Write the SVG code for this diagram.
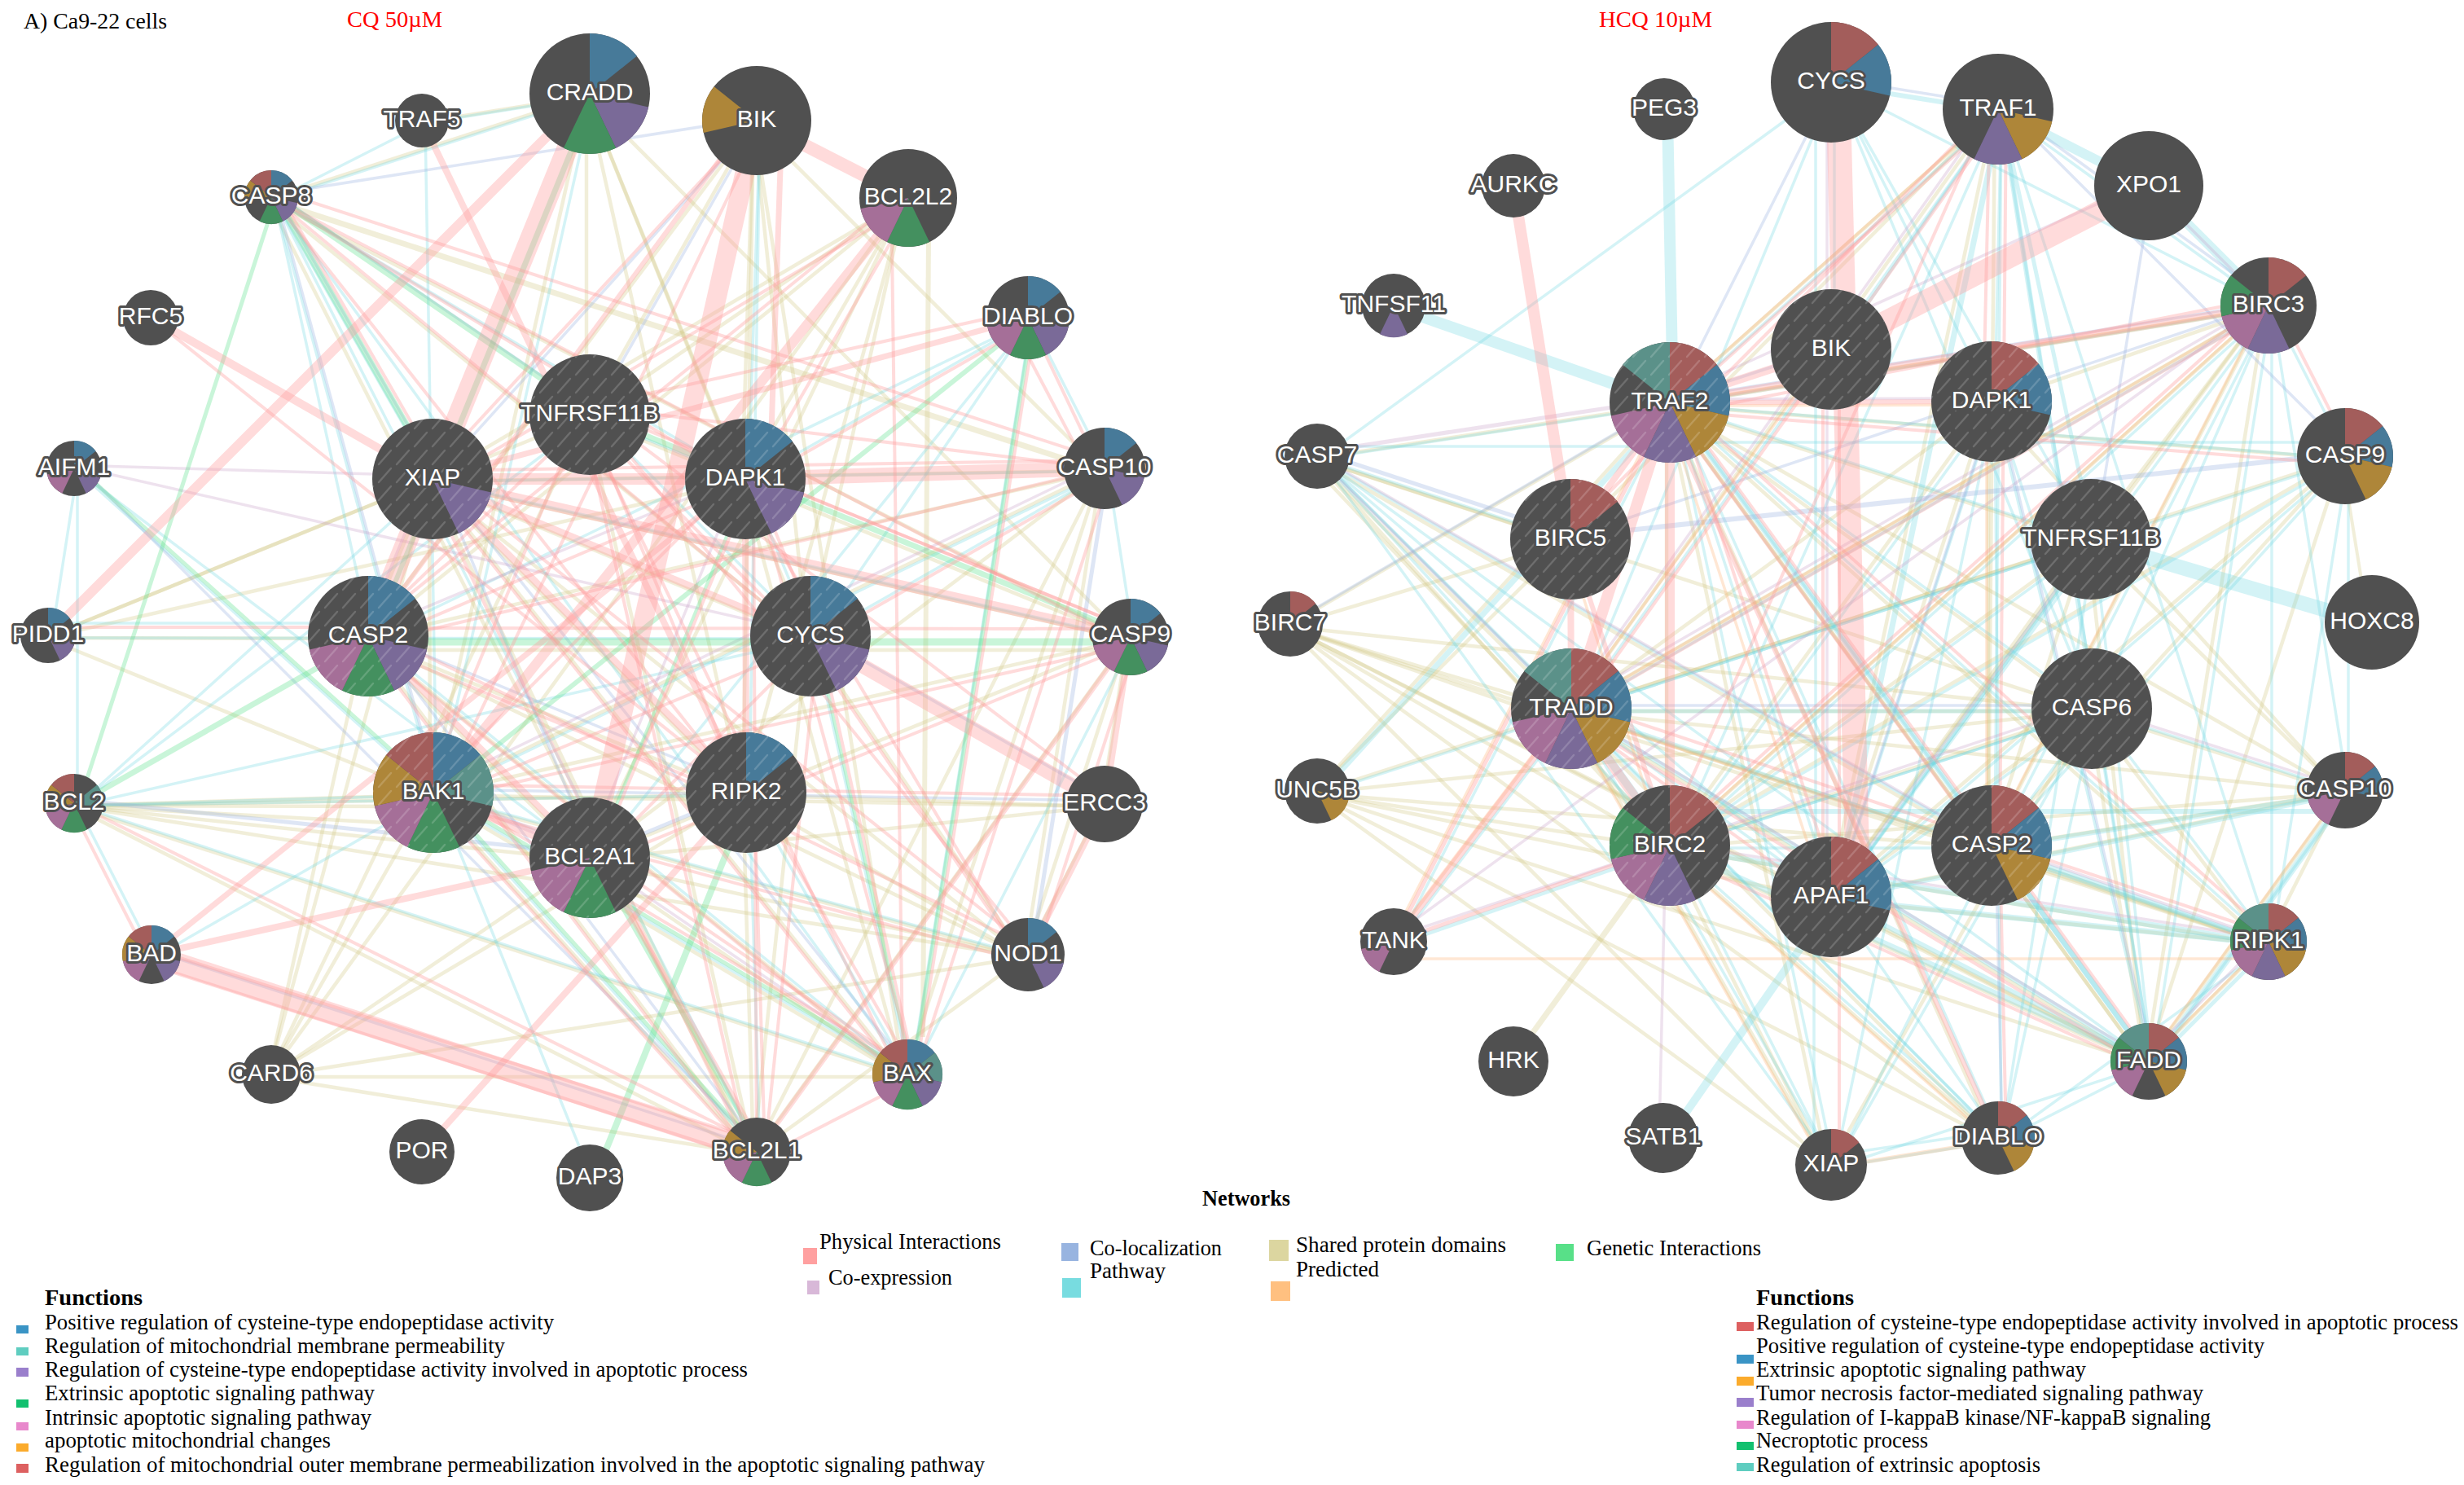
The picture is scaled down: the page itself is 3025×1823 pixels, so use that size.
<svg xmlns="http://www.w3.org/2000/svg" width="3025" height="1823" viewBox="0 0 3025 1823">
<style>
.s{stroke:#d2ca88;stroke-opacity:.32;fill:none}
.a{stroke:#70d8e2;stroke-opacity:.3;fill:none}
.l{stroke:#98b0e0;stroke-opacity:.32;fill:none}
.c{stroke:#c8a0c8;stroke-opacity:.3;fill:none}
.g{stroke:#58e088;stroke-opacity:.32;fill:none}
.p{stroke:#ff9c9c;stroke-opacity:.36;fill:none}
.d{stroke:#ffb070;stroke-opacity:.3;fill:none}
.bl{fill:#477a99}.te{fill:#5b9189}.pu{fill:#7a6a98}.gr{fill:#44905f}.pk{fill:#a56f98}.or{fill:#ae8639}.re{fill:#a35d5b}
.n text{font-family:"Liberation Sans",Arial,sans-serif;font-size:30px;fill:#fff;stroke:#505050;stroke-width:6px;paint-order:stroke;stroke-linejoin:round;text-anchor:middle}
.t{font-family:"Liberation Serif","Times New Roman",serif;font-size:27px;fill:#000}
.b{font-weight:bold}
.r{fill:#f00}
</style>
<defs>
<circle id="d" r="1" fill="#505050"/>
<path id="w0" d="M0 0L0 -1A1 1 0 0 1 .7818 -.6235Z"/>
<path id="w1" d="M0 0L.7818 -.6235A1 1 0 0 1 .9749 .2225Z"/>
<path id="w2" d="M0 0L.9749 .2225A1 1 0 0 1 .4339 .901Z"/>
<path id="w3" d="M0 0L.4339 .901A1 1 0 0 1 -.4339 .901Z"/>
<path id="w4" d="M0 0L-.4339 .901A1 1 0 0 1 -.9749 .2225Z"/>
<path id="w5" d="M0 0L-.9749 .2225A1 1 0 0 1 -.7818 -.6235Z"/>
<path id="w6" d="M0 0L-.7818 -.6235A1 1 0 0 1 0 -1Z"/>
<pattern id="h" width="22" height="22" patternUnits="userSpaceOnUse">
<path d="M3 20L18 3" stroke="#fff" stroke-opacity=".17" stroke-width="2.4" stroke-linecap="round" fill="none"/>
</pattern>
</defs>
<rect width="3025" height="1823" fill="#fff"/>

<g id="connectors-left">
<g class="s" stroke-width="4.5" transform="translate(-4 3)">
<path d="M724 115L518 148"/><path d="M724 115L333 242"/><path d="M724 115L724 509"/><path d="M724 115L915 588"/><path d="M724 115L995 781"/><path d="M724 115L916 973"/><path d="M724 115L1388 782"/><path d="M724 115L532 973"/>
<path d="M929 148L452 781"/><path d="M929 148L724 509"/><path d="M929 148L915 588"/><path d="M929 148L916 973"/><path d="M929 148L995 781"/><path d="M929 148L1356 575"/><path d="M929 148L1114 1319"/>
<path d="M1115 243L531 588"/><path d="M1115 243L452 781"/><path d="M1115 243L333 1319"/><path d="M1115 243L724 509"/><path d="M1115 243L916 973"/><path d="M1115 243L915 588"/><path d="M1115 243L995 781"/><path d="M1115 243L724 1053"/><path d="M1144 290L1137 1270" stroke-width="6"/>
<path d="M333 242L1356 575" stroke-width="7"/><path d="M333 242L1388 782"/><path d="M333 242L995 781"/><path d="M333 242L929 1414"/>
<path d="M452 781L333 1319"/><path d="M532 973L333 1319"/><path d="M724 1053L333 1319"/><path d="M916 973L333 1319"/><path d="M1262 1172L333 1319"/><path d="M531 588L333 1319"/><path d="M724 509L333 1319"/>
<path d="M91 986L532 973"/><path d="M91 986L532 987"/><path d="M91 986L532 1010"/><path d="M91 986L724 1053"/><path d="M91 986L916 973"/><path d="M91 986L929 1414"/><path d="M91 986L1114 1319"/><path d="M91 986L1262 1172"/>
<path d="M59 780L452 781"/><path d="M59 780L531 588"/><path d="M59 780L724 509"/><path d="M59 780L532 973"/><path d="M59 780L915 588"/>
<path d="M1262 1172L452 781"/><path d="M1262 1172L531 588"/><path d="M1262 1172L724 1053"/><path d="M1262 1172L916 973"/><path d="M1262 1172L532 973"/><path d="M1262 1172L995 781"/><path d="M1262 1172L1388 782"/><path d="M1262 1172L1356 987"/>
<path d="M1356 987L1388 782"/><path d="M1356 987L532 973"/><path d="M1356 987L916 973"/><path d="M1356 987L724 1053"/>
<path d="M1114 1319L452 781"/><path d="M1114 1319L532 973"/><path d="M1114 1319L333 1319"/><path d="M1114 1319L915 588"/><path d="M1114 1319L531 588"/><path d="M1114 1319L724 1053"/><path d="M1114 1319L1356 575"/>
<path d="M929 1414L452 781"/><path d="M929 1414L531 588"/><path d="M929 1414L532 973"/><path d="M929 1414L333 1319"/><path d="M929 1414L724 509"/><path d="M929 1414L995 781"/><path d="M929 1414L916 973"/><path d="M929 1414L1262 1172"/><path d="M929 1414L1388 782"/>
<path d="M1388 782L531 588"/><path d="M1388 782L532 973"/><path d="M1388 782L724 1053"/><path d="M1388 782L724 509"/><path d="M1388 795L452 795"/>
<path d="M1356 575L531 588"/><path d="M1356 575L452 781"/><path d="M1356 575L532 973"/><path d="M1356 575L724 1053"/><path d="M1356 575L929 1414"/><path d="M1356 575L1262 1172"/>
<path d="M531 588L916 973"/><path d="M531 588L532 973"/><path d="M531 588L995 781"/><path d="M531 588L452 781"/><path d="M452 781L916 973"/><path d="M452 781L724 1053"/>
</g>
<g class="a" stroke-width="3.5" transform="translate(4 3)">
<path d="M518 148L333 242"/><path d="M518 148L724 115"/><path d="M518 148L532 973"/><path d="M724 115L333 242"/><path d="M724 115L532 973"/><path d="M929 148L915 588"/><path d="M929 148L916 973"/>
<path d="M333 242L452 781"/><path d="M333 242L531 588"/><path d="M333 242L532 973"/><path d="M333 242L929 1414"/><path d="M333 242L915 588"/><path d="M333 242L1114 1319"/>
<path d="M91 575L59 780"/><path d="M91 575L91 986"/><path d="M91 575L532 973"/><path d="M91 575L724 1053"/>
<path d="M59 762L452 762"/><path d="M59 780L995 781"/>
<path d="M91 986L532 973"/><path d="M91 986L531 588"/><path d="M91 986L995 781"/><path d="M91 986L724 509"/><path d="M91 986L1114 1319"/><path d="M91 986L916 973"/><path d="M91 986L186 1172"/>
<path d="M186 1172L532 973"/><path d="M724 1446L532 973"/><path d="M532 973L1114 1319"/><path d="M532 973L929 1414"/><path d="M532 973L1262 1172"/>
<path d="M1262 390L915 588"/><path d="M1262 390L995 781"/><path d="M1262 390L1114 1319"/><path d="M1262 390L452 781"/><path d="M1262 390L1356 575"/><path d="M1262 390L724 1053"/>
<path d="M1356 575L531 588"/><path d="M1356 575L532 973"/><path d="M1356 575L1388 782"/><path d="M1356 575L995 781"/>
<path d="M531 588L1388 782"/><path d="M724 509L995 781"/><path d="M724 509L915 588"/><path d="M915 588L995 781"/><path d="M995 781L1114 1319"/><path d="M916 973L929 1414"/><path d="M916 973L1114 1319"/><path d="M1388 782L1114 1319"/><path d="M452 781L1114 1319"/>
</g>
<g class="l" stroke-width="3.5" transform="translate(5 -4)">
<path d="M333 242L929 148"/><path d="M333 242L531 588"/><path d="M333 242L532 973"/><path d="M333 242L724 509"/><path d="M929 148L724 509"/><path d="M929 148L531 588"/><path d="M91 575L929 1414"/><path d="M91 986L724 1053" stroke-width="5"/><path d="M532 973L724 1053"/><path d="M916 973L724 1053" stroke-width="5"/><path d="M995 781L1356 987"/><path d="M532 973L1356 987"/><path d="M1262 1172L1356 575" stroke-width="5"/><path d="M452 781L916 973"/><path d="M531 588L724 1053"/><path d="M531 588L1114 1319"/><path d="M452 781L929 1414"/><path d="M186 1172L929 1414"/>
</g>
<g class="c" stroke-width="3.5" transform="translate(-5 -4)">
<path d="M91 575L531 588"/><path d="M91 575L995 781"/><path d="M1356 575L532 973"/><path d="M532 973L724 1053"/><path d="M531 588L452 781"/><path d="M915 588L724 1053"/><path d="M724 1053L1114 1319"/><path d="M452 781L915 588"/>
</g>
<g class="g" transform="translate(6 0)">
<path d="M333 242L724 509" stroke-width="8"/><path d="M333 242L531 588" stroke-width="8"/><path d="M333 242L91 986" stroke-width="5"/><path d="M724 115L531 588" stroke-width="7"/><path d="M531 588L452 781" stroke-width="6"/><path d="M452 788L1388 788" stroke-width="9"/><path d="M724 509L1388 782" stroke-width="7"/><path d="M1262 390L532 973" stroke-width="6"/><path d="M1262 390L1114 1319" stroke-width="5"/><path d="M916 973L724 1446" stroke-width="8"/><path d="M91 986L452 781" stroke-width="7"/><path d="M91 575L532 973" stroke-width="5"/><path d="M532 973L1114 1319" stroke-width="5"/><path d="M532 973L929 1414" stroke-width="5"/><path d="M724 1053L929 1414" stroke-width="6"/><path d="M915 588L724 1053" stroke-width="4"/><path d="M995 781L1114 1319" stroke-width="4"/>
</g>
<g class="p" stroke-width="4">
<path d="M724 115L452 781" stroke-width="26"/><path d="M929 148L724 1053" stroke-width="24"/><path d="M186 1172L929 1414" stroke-width="26"/><path d="M186 1185L915 1420"/><path d="M186 1165L929 1400"/>
<path d="M995 781L1356 987" stroke-width="18"/><path d="M915 588L1356 575" stroke-width="18"/><path d="M929 148L1115 243" stroke-width="16"/><path d="M531 588L915 588" stroke-width="14"/><path d="M531 588L1388 782" stroke-width="12"/><path d="M59 780L724 115" stroke-width="12"/><path d="M1115 243L532 973" stroke-width="12"/><path d="M185 390L531 588" stroke-width="10"/><path d="M531 588L995 781" stroke-width="9"/><path d="M531 588L916 973" stroke-width="9"/><path d="M452 781L724 1053" stroke-width="8"/><path d="M532 973L724 1053" stroke-width="12"/>
<path d="M518 148L916 973" stroke-width="8"/><path d="M1262 390L531 588" stroke-width="7"/><path d="M186 1172L915 588" stroke-width="7"/><path d="M186 1172L724 1053" stroke-width="8"/><path d="M518 1414L916 973" stroke-width="8"/><path d="M1388 782L1356 987" stroke-width="8"/><path d="M1356 987L1262 1172" stroke-width="8"/><path d="M1388 782L929 1414" stroke-width="6"/><path d="M915 588L916 973" stroke-width="8"/><path d="M960 148L945 588" stroke-width="7"/><path d="M1095 300L1108 1290"/>
<path d="M185 390L916 973"/><path d="M333 242L915 595"/><path d="M333 242L995 788"/><path d="M333 242L916 980"/><path d="M333 232L1356 565"/><path d="M333 242L1388 790"/><path d="M345 242L545 588"/>
<path d="M85 986L180 1172"/><path d="M91 986L929 1404"/><path d="M59 770L452 770"/>
<path d="M1262 390L1350 575"/><path d="M1240 395L1335 575"/><path d="M1262 380L724 499"/><path d="M1262 400L915 598"/><path d="M1272 390L1124 1319"/>
<path d="M1356 565L531 578"/><path d="M1356 575L724 499"/><path d="M1356 575L452 791"/><path d="M1356 585L995 791"/><path d="M1366 575L1124 1319"/>
<path d="M1388 772L915 578"/><path d="M1388 772L724 499"/><path d="M1388 772L452 771"/><path d="M1388 792L532 983"/><path d="M1388 792L724 1063"/><path d="M1398 782L1272 1172"/>
<path d="M1356 977L724 499"/><path d="M1356 977L532 963"/>
<path d="M1262 1162L531 578"/><path d="M1262 1162L452 771"/><path d="M1262 1162L724 499"/><path d="M1252 1172L905 588"/><path d="M1262 1182L532 983"/><path d="M1252 1172L985 781"/>
<path d="M1104 1319L442 781"/><path d="M1104 1319L521 588"/><path d="M1104 1319L714 509"/><path d="M1124 1319L925 588"/><path d="M1114 1309L532 963"/><path d="M1114 1309L724 1043"/><path d="M1124 1319L1005 781"/><path d="M1124 1319L926 973"/>
<path d="M919 1414L442 781"/><path d="M919 1414L521 588"/><path d="M919 1414L522 973"/><path d="M939 1414L926 973"/><path d="M939 1414L1005 781"/><path d="M929 1424L925 588"/><path d="M929 1424L1114 1329"/><path d="M919 1414L714 509"/><path d="M939 1414L734 1053" stroke-width="6"/>
<path d="M916 983L452 791"/><path d="M916 983L724 519"/><path d="M1005 781L925 588"/><path d="M985 781L714 509"/><path d="M995 791L532 983"/><path d="M995 791L724 1063"/><path d="M905 588L522 973"/><path d="M925 588L734 1053"/><path d="M905 598L452 791"/><path d="M714 509L522 973"/><path d="M714 519L442 781"/>
<path d="M919 148L452 781" stroke-width="6"/><path d="M929 148L531 578"/><path d="M939 148L542 973"/><path d="M1115 253L531 598"/><path d="M1125 243L925 588"/><path d="M1115 233L452 771"/>
</g>
</g>

<g id="connectors-right">
<g class="s" stroke-width="4.5" transform="translate(-4 3)">
<path d="M1858 1303L2050 1038" stroke-width="7"/><path d="M2879 560L2912 764" stroke-width="4"/>
<path d="M1584 766L1929 870"/><path d="M1584 766L2050 1038"/><path d="M1584 766L2050 494"/><path d="M1584 766L1928 662"/><path d="M1584 766L2248 1101"/><path d="M1584 766L2453 1397"/><path d="M1584 766L2248 1430"/><path d="M1584 766L2568 870"/><path d="M1584 766L2785 1156"/><path d="M1584 766L2638 1303"/><path d="M1584 766L1929 885"/>
<path d="M1617 560L1929 870"/><path d="M1617 560L2050 494"/><path d="M1617 560L2050 1038"/><path d="M1617 560L2445 1038"/><path d="M1617 560L2568 870"/><path d="M1617 560L1928 662"/><path d="M1617 570L2060 1038"/>
<path d="M1617 971L2050 494"/><path d="M1617 971L1928 662"/><path d="M1617 971L1929 870"/><path d="M1617 971L2050 1038"/><path d="M1617 971L2248 1101"/><path d="M1617 971L2445 1038"/><path d="M1617 971L2568 870"/><path d="M1617 971L2638 1303"/><path d="M1617 971L2248 1430"/><path d="M1617 971L2453 1397"/>
<path d="M2879 970L2050 1038"/><path d="M2879 970L1929 870"/><path d="M2879 970L2050 494"/><path d="M2879 970L2248 1101"/><path d="M2879 970L2445 1038"/><path d="M2879 970L2638 1303"/><path d="M2879 970L2568 870"/><path d="M2879 970L2785 1156"/><path d="M2879 970L2445 493"/>
<path d="M2785 1156L1929 870"/><path d="M2785 1156L2050 494"/><path d="M2785 1156L2050 1038"/><path d="M2785 1156L2248 1101"/><path d="M2785 1156L2445 1038"/><path d="M2785 1156L2638 1303"/><path d="M2785 1156L2568 870"/>
<path d="M2638 1303L2050 494"/><path d="M2638 1303L1929 870"/><path d="M2638 1303L2050 1038"/><path d="M2638 1303L2248 1101"/><path d="M2638 1303L2445 1038"/><path d="M2638 1303L2568 870"/><path d="M2638 1303L2567 662"/>
<path d="M2785 375L1929 870"/><path d="M2785 375L2050 494"/><path d="M2785 375L2050 1038"/><path d="M2785 375L2567 662"/><path d="M2785 375L2445 493"/><path d="M2785 375L2248 1101"/><path d="M2785 375L2445 1038"/><path d="M2785 375L2638 1303"/>
<path d="M2453 134L1929 870"/><path d="M2453 134L1928 662"/><path d="M2453 134L2050 494"/><path d="M2453 134L2248 1101"/><path d="M2453 134L2445 1038"/>
<path d="M2445 1038L2050 494"/><path d="M2445 1038L1929 870"/><path d="M2445 1038L2567 662"/><path d="M2568 870L1929 870"/><path d="M2568 870L2050 494"/><path d="M2568 870L2050 1038"/><path d="M2568 870L2248 1101"/>
<path d="M2567 662L2050 494"/><path d="M2567 662L1929 870"/><path d="M2567 662L2050 1038"/><path d="M2567 662L2248 1101"/><path d="M2567 662L2879 970"/>
<path d="M2445 493L1929 870"/><path d="M2445 493L2050 1038"/><path d="M2445 493L2248 1101"/><path d="M2445 493L2445 1038"/>
<path d="M2248 1430L1929 870"/><path d="M2248 1430L2050 494"/><path d="M2248 1430L2050 1038"/><path d="M2248 1430L2568 870"/><path d="M2453 1397L1929 870"/><path d="M2453 1397L2050 494"/><path d="M2453 1397L2050 1038"/><path d="M2050 1038L2050 494"/><path d="M2879 560L2050 494"/><path d="M2879 560L2050 1038"/><path d="M2879 560L2248 1101"/><path d="M2879 560L2445 1038"/><path d="M2879 560L1929 870"/><path d="M2879 560L2638 1303"/>
</g>
<g class="a" stroke-width="3.5" transform="translate(4 3)">
<path d="M2043 134L2050 494" stroke-width="14"/><path d="M1711 375L2050 494" stroke-width="14"/><path d="M2638 228L2453 134" stroke-width="12"/><path d="M2638 228L2785 375" stroke-width="12"/><path d="M2567 662L2912 764" stroke-width="18"/><path d="M1929 870L2050 1038" stroke-width="10"/><path d="M2042 1397L2248 1101" stroke-width="10"/><path d="M2879 970L2638 1303" stroke-width="8"/>
<path d="M2248 101L2453 134" stroke-width="6"/><path d="M2453 134L2568 870" stroke-width="6"/><path d="M2453 134L2567 662" stroke-width="5"/><path d="M2453 134L2248 1101" stroke-width="7"/><path d="M2050 494L2638 1303" stroke-width="7"/><path d="M2050 1038L2638 1303" stroke-width="7"/><path d="M2050 1038L2785 1156" stroke-width="7"/><path d="M1929 870L2638 1303" stroke-width="6"/><path d="M1929 870L2785 1156" stroke-width="5"/><path d="M2248 1101L2785 1156" stroke-width="7"/><path d="M2248 1101L2638 1303" stroke-width="6"/><path d="M2445 1038L2785 1156" stroke-width="6"/><path d="M2445 1038L2638 1303" stroke-width="6"/><path d="M2879 970L2445 1038" stroke-width="6"/><path d="M2879 970L2248 1101" stroke-width="6"/><path d="M2879 993L2050 993" stroke-width="6"/>
<path d="M1617 560L2050 494"/><path d="M1617 560L2248 101"/><path d="M1617 560L1929 870"/><path d="M1617 560L2050 1038"/><path d="M1617 560L2248 1101"/><path d="M1617 560L2445 1038"/><path d="M1617 560L2248 1430"/><path d="M1617 560L2453 1397"/><path d="M1617 560L2638 1303"/><path d="M1617 560L1928 662"/><path d="M1617 545L2050 545"/>
<path d="M1617 971L2050 494" stroke-width="7"/><path d="M1617 971L1929 870"/><path d="M1711 1156L1929 870"/><path d="M1711 1156L2050 494"/><path d="M1711 1156L2050 1038" stroke-width="5"/>
<path d="M2785 375L2050 494"/><path d="M2785 375L1929 870"/><path d="M2785 375L2050 1038"/><path d="M2785 375L2248 1101"/><path d="M2785 375L2445 1038"/><path d="M2785 375L2568 870"/><path d="M2785 375L2879 560"/><path d="M2785 375L2785 1156"/><path d="M2785 375L2879 970"/><path d="M2785 375L2638 1303"/>
<path d="M2248 101L1929 870"/><path d="M2248 101L2248 429"/><path d="M2225 101L2225 1101"/><path d="M2248 101L2445 493"/><path d="M2248 101L2785 375"/><path d="M2248 101L2568 870"/><path d="M2248 101L2567 662"/>
<path d="M2453 134L2248 429"/><path d="M2453 134L2050 1038"/><path d="M2453 134L1929 870"/><path d="M2453 134L2050 494"/><path d="M2453 134L2445 1038"/><path d="M2453 134L2445 493"/><path d="M2453 134L2785 375"/><path d="M2453 134L2785 1156"/><path d="M2453 134L2638 1303"/>
<path d="M2445 493L2248 1430"/><path d="M2445 493L2248 1101"/><path d="M2445 493L2050 1038"/><path d="M2445 493L2568 870"/><path d="M2445 493L2638 1303"/><path d="M2445 493L2453 1397"/>
<path d="M2879 560L2050 494"/><path d="M2879 540L2050 540"/><path d="M2879 560L1929 870"/><path d="M2879 560L2050 1038"/><path d="M2879 560L2785 1156"/><path d="M2879 560L2248 1101"/><path d="M2879 560L2879 970"/><path d="M2879 560L2445 1038"/>
<path d="M2567 662L2050 494"/><path d="M2567 662L1929 870"/><path d="M2567 662L2248 1101"/><path d="M2567 662L2050 1038"/><path d="M2567 662L2638 1303"/><path d="M2567 662L2453 1397"/>
<path d="M2568 870L2050 494"/><path d="M2568 870L1929 870" stroke-width="5"/><path d="M2568 870L2050 1038"/><path d="M2568 870L2248 1101"/><path d="M2568 870L2445 1038"/><path d="M2568 870L2785 1156"/><path d="M2568 870L2453 1397"/><path d="M2568 870L2638 1303"/><path d="M2568 870L2879 970"/>
<path d="M2223 1101L2223 1430"/><path d="M2248 1101L2453 1397"/><path d="M2248 1101L2567 662"/><path d="M2050 1038L2453 1397"/><path d="M2050 1038L2248 1430"/><path d="M2050 1038L2445 1038"/><path d="M2050 1038L2568 870"/>
<path d="M1929 870L2453 1397"/><path d="M1929 870L2248 1101"/><path d="M1929 870L2248 1430"/><path d="M2050 494L2453 1397"/><path d="M2050 494L2248 1430"/><path d="M2050 494L2248 1101"/><path d="M2050 494L2445 1038"/><path d="M2050 494L2785 1156"/>
<path d="M2248 1430L2453 1397"/><path d="M2248 1415L2453 1385"/><path d="M2248 1430L2445 1038"/><path d="M2248 1430L2568 870"/><path d="M2248 1430L2638 1303"/><path d="M2453 1397L2638 1303"/><path d="M2453 1397L2785 1156"/><path d="M2638 1303L2785 1156" stroke-width="5"/><path d="M2638 1303L2879 970"/>
</g>
<g class="l" stroke-width="3.5" transform="translate(5 -4)">
<path d="M2879 560L1928 662" stroke-width="6"/><path d="M2785 375L2050 494"/><path d="M2785 375L1928 662"/><path d="M2050 494L2248 429"/><path d="M2050 494L2248 101"/><path d="M2638 228L2567 662"/><path d="M2248 101L2453 134"/><path d="M2453 134L2879 560"/><path d="M2453 134L2785 375"/><path d="M1617 560L1928 662" stroke-width="5"/><path d="M1584 766L2050 494"/><path d="M2445 493L2638 1303"/><path d="M2445 493L2248 1101"/><path d="M1929 870L2568 870"/><path d="M2445 1038L2453 1397"/><path d="M2248 1101L2567 662"/>
</g>
<g class="c" stroke-width="3.5" transform="translate(-5 -4)">
<path d="M1617 560L2050 494" stroke-width="5"/><path d="M2638 228L2050 494"/><path d="M2638 228L2785 375"/><path d="M1711 1156L2785 375"/><path d="M1711 1156L2568 870"/><path d="M2042 1397L2050 1038"/><path d="M2050 1038L2785 1156"/><path d="M1617 560L1929 870"/><path d="M1617 560L2445 1038"/><path d="M2568 870L2879 970"/><path d="M2248 101L2248 1101"/><path d="M2453 134L1929 870"/><path d="M2445 1038L2785 1156"/><path d="M1929 870L2785 375"/><path d="M2445 493L2050 494"/><path d="M2638 1303L2785 1156"/><path d="M1929 870L2638 1303"/>
</g>
<g class="d" stroke-width="3.5" transform="translate(-6 4)">
<path d="M1711 1173L2770 1173"/><path d="M1711 1156L1929 870" stroke-width="5"/><path d="M1711 1156L2050 494"/><path d="M2453 134L2050 494"/><path d="M2050 494L2785 375" stroke-width="5"/><path d="M1929 870L2785 375"/><path d="M2050 494L2445 493"/><path d="M2248 429L1929 870"/><path d="M2050 1038L2785 375"/><path d="M2248 1430L2453 1397" stroke-width="5"/><path d="M2453 1397L2050 1038"/><path d="M2445 1038L2445 493"/><path d="M1929 870L2445 1038"/><path d="M2050 494L2248 1101"/><path d="M2785 375L2445 1038"/><path d="M2638 1303L2785 1156"/><path d="M2638 1303L2879 970"/><path d="M1929 870L2248 1430"/><path d="M1928 662L2050 1038"/>
</g>
<g class="p" stroke-width="4">
<path d="M2638 228L2248 429" stroke-width="26"/><path d="M2258 170L2280 1050" stroke-width="30"/><path d="M1858 228L1928 662" stroke-width="14"/><path d="M2050 494L2785 375" stroke-width="8"/><path d="M2050 494L2248 429" stroke-width="10"/><path d="M2050 494L1929 870" stroke-width="14"/><path d="M2050 494L2050 1038" stroke-width="12"/><path d="M2050 494L1928 662" stroke-width="8"/><path d="M2050 494L2445 493" stroke-width="6"/><path d="M1929 870L2050 1038" stroke-width="12"/><path d="M1711 1156L1929 870" stroke-width="8"/><path d="M1711 1156L2050 494" stroke-width="5"/><path d="M1711 1156L2050 1038" stroke-width="5"/><path d="M1928 662L1929 870" stroke-width="8"/><path d="M1928 662L2050 1038" stroke-width="6"/>
<path d="M2463 134L2060 494"/><path d="M2463 134L1939 870"/><path d="M2443 134L2040 1038"/><path d="M2443 134L2435 493"/><path d="M2463 134L2455 1038"/><path d="M2443 134L1918 662"/><path d="M2785 365L2050 510"/><path d="M2795 375L2889 560"/><path d="M2775 375L2040 1038"/><path d="M2795 375L1939 870"/><path d="M2453 1397L2040 494" stroke-width="6"/><path d="M2455 1038L2463 1397"/><path d="M2238 429L2238 1101"/><path d="M2258 1430L2258 429"/><path d="M2248 1111L1929 880"/><path d="M2258 1101L2060 494"/><path d="M2445 1048L2050 504"/><path d="M2785 1146L2050 484"/><path d="M2785 1146L1929 860"/><path d="M2638 1293L2050 484"/><path d="M2638 1313L1929 880"/><path d="M2638 1313L2050 1048"/><path d="M2879 570L2050 504"/>
</g>
</g>

<g id="nodes-left" class="n">
<g id="a-CRADD"><g transform="translate(724 115) scale(74)"><use href="#d"/><use href="#w0" class="bl"/><use href="#w2" class="pu"/><use href="#w3" class="gr"/></g><text x="724" y="123">CRADD</text></g>
<g id="a-BIK"><g transform="translate(929 148) scale(67)"><use href="#d"/><use href="#w5" class="or"/></g><text x="929" y="156">BIK</text></g>
<g id="a-TRAF5"><g transform="translate(518 148) scale(33)"><use href="#d"/></g><text x="518" y="156">TRAF5</text></g>
<g id="a-CASP8"><g transform="translate(333 242) scale(33)"><use href="#d"/><use href="#w0" class="bl"/><use href="#w2" class="pu"/><use href="#w3" class="gr"/><use href="#w5" class="or"/><use href="#w6" class="re"/></g><text x="333" y="250">CASP8</text></g>
<g id="a-BCL2L2"><g transform="translate(1115 243) scale(60)"><use href="#d"/><use href="#w3" class="gr"/><use href="#w4" class="pk"/></g><text x="1115" y="251">BCL2L2</text></g>
<g id="a-DIABLO"><g transform="translate(1262 390) scale(51)"><use href="#d"/><use href="#w0" class="bl"/><use href="#w2" class="pu"/><use href="#w3" class="gr"/><use href="#w4" class="pk"/></g><text x="1262" y="398">DIABLO</text></g>
<g id="a-RFC5"><g transform="translate(185 390) scale(34)"><use href="#d"/></g><text x="185" y="398">RFC5</text></g>
<g id="a-TNFRSF11B"><circle cx="724" cy="509" r="74" fill="#505050"/><circle cx="724" cy="509" r="74" fill="url(#h)"/><text x="724" y="517">TNFRSF11B</text></g>
<g id="a-XIAP"><g transform="translate(531 588) scale(74)"><use href="#d"/><use href="#w2" class="pu"/></g><circle cx="531" cy="588" r="74" fill="url(#h)"/><text x="531" y="596">XIAP</text></g>
<g id="a-DAPK1"><g transform="translate(915 588) scale(74)"><use href="#d"/><use href="#w0" class="bl"/><use href="#w2" class="pu"/></g><circle cx="915" cy="588" r="74" fill="url(#h)"/><text x="915" y="596">DAPK1</text></g>
<g id="a-AIFM1"><g transform="translate(91 575) scale(34)"><use href="#d"/><use href="#w0" class="bl"/><use href="#w2" class="pu"/><use href="#w4" class="pk"/></g><text x="91" y="583">AIFM1</text></g>
<g id="a-CASP10"><g transform="translate(1356 575) scale(50)"><use href="#d"/><use href="#w0" class="bl"/><use href="#w2" class="pu"/></g><text x="1356" y="583">CASP10</text></g>
<g id="a-PIDD1"><g transform="translate(59 780) scale(34)"><use href="#d"/><use href="#w0" class="bl"/><use href="#w2" class="pu"/></g><text x="59" y="788">PIDD1</text></g>
<g id="a-CASP2"><g transform="translate(452 781) scale(74)"><use href="#d"/><use href="#w0" class="bl"/><use href="#w2" class="pu"/><use href="#w3" class="gr"/><use href="#w4" class="pk"/></g><circle cx="452" cy="781" r="74" fill="url(#h)"/><text x="452" y="789">CASP2</text></g>
<g id="a-CYCS"><g transform="translate(995 781) scale(74)"><use href="#d"/><use href="#w0" class="bl"/><use href="#w2" class="pu"/></g><circle cx="995" cy="781" r="74" fill="url(#h)"/><text x="995" y="789">CYCS</text></g>
<g id="a-CASP9"><g transform="translate(1388 782) scale(47)"><use href="#d"/><use href="#w0" class="bl"/><use href="#w2" class="pu"/><use href="#w3" class="gr"/><use href="#w4" class="pk"/></g><text x="1388" y="788">CASP9</text></g>
<g id="a-BAK1"><g transform="translate(532 973) scale(74)"><use href="#d"/><use href="#w0" class="bl"/><use href="#w1" class="te"/><use href="#w3" class="gr"/><use href="#w4" class="pk"/><use href="#w5" class="or"/><use href="#w6" class="re"/></g><circle cx="532" cy="973" r="74" fill="url(#h)"/><text x="532" y="981">BAK1</text></g>
<g id="a-RIPK2"><g transform="translate(916 973) scale(74)"><use href="#d"/><use href="#w0" class="bl"/></g><circle cx="916" cy="973" r="74" fill="url(#h)"/><text x="916" y="981">RIPK2</text></g>
<g id="a-BCL2"><g transform="translate(91 986) scale(36)"><use href="#d"/><use href="#w1" class="te"/><use href="#w3" class="gr"/><use href="#w4" class="pk"/><use href="#w5" class="or"/><use href="#w6" class="re"/></g><text x="91" y="994">BCL2</text></g>
<g id="a-ERCC3"><g transform="translate(1356 987) scale(47)"><use href="#d"/></g><text x="1356" y="995">ERCC3</text></g>
<g id="a-BCL2A1"><g transform="translate(724 1053) scale(74)"><use href="#d"/><use href="#w3" class="gr"/><use href="#w4" class="pk"/></g><circle cx="724" cy="1053" r="74" fill="url(#h)"/><text x="724" y="1061">BCL2A1</text></g>
<g id="a-BAD"><g transform="translate(186 1172) scale(36)"><use href="#d"/><use href="#w0" class="bl"/><use href="#w2" class="pu"/><use href="#w4" class="pk"/><use href="#w5" class="or"/><use href="#w6" class="re"/></g><text x="186" y="1180">BAD</text></g>
<g id="a-NOD1"><g transform="translate(1262 1172) scale(45)"><use href="#d"/><use href="#w0" class="bl"/><use href="#w2" class="pu"/></g><text x="1262" y="1180">NOD1</text></g>
<g id="a-CARD6"><g transform="translate(333 1319) scale(36)"><use href="#d"/></g><text x="333" y="1327">CARD6</text></g>
<g id="a-BAX"><g transform="translate(1114 1319) scale(43)"><use href="#d"/><use href="#w0" class="bl"/><use href="#w1" class="te"/><use href="#w2" class="pu"/><use href="#w3" class="gr"/><use href="#w4" class="pk"/><use href="#w5" class="or"/><use href="#w6" class="re"/></g><text x="1114" y="1327">BAX</text></g>
<g id="a-POR"><g transform="translate(518 1414) scale(40)"><use href="#d"/></g><text x="518" y="1422">POR</text></g>
<g id="a-BCL2L1"><g transform="translate(929 1414) scale(42)"><use href="#d"/><use href="#w3" class="gr"/><use href="#w4" class="pk"/><use href="#w5" class="or"/></g><text x="929" y="1422">BCL2L1</text></g>
<g id="a-DAP3"><g transform="translate(724 1446) scale(41)"><use href="#d"/></g><text x="724" y="1454">DAP3</text></g>
</g>

<g id="nodes-right" class="n">
<g id="b-CYCS"><g transform="translate(2248 101) scale(74)"><use href="#d"/><use href="#w0" class="re"/><use href="#w1" class="bl"/></g><text x="2248" y="109">CYCS</text></g>
<g id="b-PEG3"><g transform="translate(2043 134) scale(38)"><use href="#d"/></g><text x="2043" y="142">PEG3</text></g>
<g id="b-TRAF1"><g transform="translate(2453 134) scale(68)"><use href="#d"/><use href="#w2" class="or"/><use href="#w3" class="pu"/></g><text x="2453" y="142">TRAF1</text></g>
<g id="b-XPO1"><g transform="translate(2638 228) scale(67)"><use href="#d"/></g><text x="2638" y="236">XPO1</text></g>
<g id="b-AURKC"><g transform="translate(1858 228) scale(39)"><use href="#d"/></g><text x="1858" y="236">AURKC</text></g>
<g id="b-TNFSF11"><g transform="translate(1711 375) scale(39)"><use href="#d"/><use href="#w3" class="pu"/></g><text x="1711" y="383">TNFSF11</text></g>
<g id="b-BIRC3"><g transform="translate(2785 375) scale(59)"><use href="#d"/><use href="#w0" class="re"/><use href="#w3" class="pu"/><use href="#w4" class="pk"/><use href="#w5" class="gr"/></g><text x="2785" y="383">BIRC3</text></g>
<g id="b-BIK"><circle cx="2248" cy="429" r="74" fill="#505050"/><circle cx="2248" cy="429" r="74" fill="url(#h)"/><text x="2248" y="437">BIK</text></g>
<g id="b-TRAF2"><g transform="translate(2050 494) scale(74)"><use href="#d"/><use href="#w0" class="re"/><use href="#w1" class="bl"/><use href="#w2" class="or"/><use href="#w3" class="pu"/><use href="#w4" class="pk"/><use href="#w6" class="te"/></g><circle cx="2050" cy="494" r="74" fill="url(#h)"/><text x="2050" y="502">TRAF2</text></g>
<g id="b-DAPK1"><g transform="translate(2445 493) scale(74)"><use href="#d"/><use href="#w0" class="re"/><use href="#w1" class="bl"/></g><circle cx="2445" cy="493" r="74" fill="url(#h)"/><text x="2445" y="501">DAPK1</text></g>
<g id="b-CASP7"><g transform="translate(1617 560) scale(40)"><use href="#d"/></g><text x="1617" y="568">CASP7</text></g>
<g id="b-CASP9"><g transform="translate(2879 560) scale(59)"><use href="#d"/><use href="#w0" class="re"/><use href="#w1" class="bl"/><use href="#w2" class="or"/></g><text x="2879" y="568">CASP9</text></g>
<g id="b-TNFRSF11B"><circle cx="2567" cy="662" r="74" fill="#505050"/><circle cx="2567" cy="662" r="74" fill="url(#h)"/><text x="2567" y="670">TNFRSF11B</text></g>
<g id="b-BIRC5"><g transform="translate(1928 662) scale(74)"><use href="#d"/><use href="#w0" class="re"/></g><circle cx="1928" cy="662" r="74" fill="url(#h)"/><text x="1928" y="670">BIRC5</text></g>
<g id="b-HOXC8"><g transform="translate(2912 764) scale(58)"><use href="#d"/></g><text x="2912" y="772">HOXC8</text></g>
<g id="b-BIRC7"><g transform="translate(1584 766) scale(40)"><use href="#d"/><use href="#w0" class="re"/></g><text x="1584" y="774">BIRC7</text></g>
<g id="b-TRADD"><g transform="translate(1929 870) scale(74)"><use href="#d"/><use href="#w0" class="re"/><use href="#w1" class="bl"/><use href="#w2" class="or"/><use href="#w3" class="pu"/><use href="#w4" class="pk"/><use href="#w6" class="te"/></g><circle cx="1929" cy="870" r="74" fill="url(#h)"/><text x="1929" y="878">TRADD</text></g>
<g id="b-CASP6"><circle cx="2568" cy="870" r="74" fill="#505050"/><circle cx="2568" cy="870" r="74" fill="url(#h)"/><text x="2568" y="878">CASP6</text></g>
<g id="b-UNC5B"><g transform="translate(1617 971) scale(40)"><use href="#d"/><use href="#w2" class="or"/></g><text x="1617" y="979">UNC5B</text></g>
<g id="b-CASP10"><g transform="translate(2879 970) scale(47)"><use href="#d"/><use href="#w0" class="re"/><use href="#w1" class="bl"/><use href="#w4" class="pk"/></g><text x="2879" y="978">CASP10</text></g>
<g id="b-BIRC2"><g transform="translate(2050 1038) scale(74)"><use href="#d"/><use href="#w0" class="re"/><use href="#w3" class="pu"/><use href="#w4" class="pk"/><use href="#w5" class="gr"/></g><circle cx="2050" cy="1038" r="74" fill="url(#h)"/><text x="2050" y="1046">BIRC2</text></g>
<g id="b-CASP2"><g transform="translate(2445 1038) scale(74)"><use href="#d"/><use href="#w0" class="re"/><use href="#w1" class="bl"/><use href="#w2" class="or"/></g><circle cx="2445" cy="1038" r="74" fill="url(#h)"/><text x="2445" y="1046">CASP2</text></g>
<g id="b-APAF1"><g transform="translate(2248 1101) scale(74)"><use href="#d"/><use href="#w0" class="re"/><use href="#w1" class="bl"/></g><circle cx="2248" cy="1101" r="74" fill="url(#h)"/><text x="2248" y="1109">APAF1</text></g>
<g id="b-TANK"><g transform="translate(1711 1156) scale(41)"><use href="#d"/><use href="#w4" class="pk"/></g><text x="1711" y="1164">TANK</text></g>
<g id="b-RIPK1"><g transform="translate(2785 1156) scale(47)"><use href="#d"/><use href="#w0" class="re"/><use href="#w1" class="bl"/><use href="#w2" class="or"/><use href="#w3" class="pu"/><use href="#w4" class="pk"/><use href="#w5" class="gr"/><use href="#w6" class="te"/></g><text x="2785" y="1164">RIPK1</text></g>
<g id="b-HRK"><g transform="translate(1858 1303) scale(43)"><use href="#d"/></g><text x="1858" y="1311">HRK</text></g>
<g id="b-FADD"><g transform="translate(2638 1303) scale(47)"><use href="#d"/><use href="#w0" class="re"/><use href="#w1" class="bl"/><use href="#w2" class="or"/><use href="#w4" class="pk"/><use href="#w5" class="gr"/><use href="#w6" class="te"/></g><text x="2638" y="1311">FADD</text></g>
<g id="b-SATB1"><g transform="translate(2042 1397) scale(43)"><use href="#d"/></g><text x="2042" y="1405">SATB1</text></g>
<g id="b-DIABLO"><g transform="translate(2453 1397) scale(45)"><use href="#d"/><use href="#w0" class="re"/><use href="#w1" class="bl"/><use href="#w2" class="or"/></g><text x="2453" y="1405">DIABLO</text></g>
<g id="b-XIAP"><g transform="translate(2248 1430) scale(44)"><use href="#d"/><use href="#w0" class="re"/></g><text x="2248" y="1438">XIAP</text></g>
</g>

<g id="titles">
<text class="t" x="29" y="35" textLength="176" lengthAdjust="spacingAndGlyphs">A) Ca9-22 cells</text>
<text class="t r" x="426" y="33" textLength="117" lengthAdjust="spacingAndGlyphs">CQ 50µM</text>
<text class="t r" x="1963" y="33" textLength="139" lengthAdjust="spacingAndGlyphs">HCQ 10µM</text>
</g>

<g id="legend-networks">
<text class="t b" x="1476" y="1480" textLength="108" lengthAdjust="spacingAndGlyphs">Networks</text>
<rect x="986" y="1532" width="17" height="20" fill="#ffa0a0"/><text class="t" x="1006" y="1533" textLength="223" lengthAdjust="spacingAndGlyphs">Physical Interactions</text>
<rect x="991" y="1572" width="15" height="17" fill="#d8b8d8"/><text class="t" x="1017" y="1577" textLength="152" lengthAdjust="spacingAndGlyphs">Co-expression</text>
<rect x="1303" y="1526" width="21" height="22" fill="#98b4e0"/><text class="t" x="1338" y="1541" textLength="162" lengthAdjust="spacingAndGlyphs">Co-localization</text>
<rect x="1304" y="1569" width="23" height="24" fill="#78dce0"/><text class="t" x="1338" y="1569" textLength="93" lengthAdjust="spacingAndGlyphs">Pathway</text>
<rect x="1558" y="1522" width="24" height="26" fill="#dcd6a0"/><text class="t" x="1591" y="1537" textLength="258" lengthAdjust="spacingAndGlyphs">Shared protein domains</text>
<rect x="1560" y="1573" width="24" height="24" fill="#ffc080"/><text class="t" x="1591" y="1567" textLength="102" lengthAdjust="spacingAndGlyphs">Predicted</text>
<rect x="1910" y="1527" width="22" height="21" fill="#58e088"/><text class="t" x="1948" y="1541" textLength="214" lengthAdjust="spacingAndGlyphs">Genetic Interactions</text>
</g>

<g id="legend-functions-left">
<text class="t b" x="55" y="1602" textLength="120" lengthAdjust="spacingAndGlyphs">Functions</text>
<rect x="20" y="1627" width="15" height="10" fill="#3a94c5"/><text class="t" x="55" y="1632" textLength="625" lengthAdjust="spacingAndGlyphs">Positive regulation of cysteine-type endopeptidase activity</text>
<rect x="20" y="1654" width="15" height="10" fill="#5fcdc0"/><text class="t" x="55" y="1661" textLength="565" lengthAdjust="spacingAndGlyphs">Regulation of mitochondrial membrane permeability</text>
<rect x="20" y="1679" width="15" height="11" fill="#9a7fcc"/><text class="t" x="55" y="1690" textLength="863" lengthAdjust="spacingAndGlyphs">Regulation of cysteine-type endopeptidase activity involved in apoptotic process</text>
<rect x="20" y="1718" width="15" height="10" fill="#12c06f"/><text class="t" x="55" y="1719" textLength="405" lengthAdjust="spacingAndGlyphs">Extrinsic apoptotic signaling pathway</text>
<rect x="20" y="1746" width="15" height="10" fill="#e888cc"/><text class="t" x="55" y="1749" textLength="401" lengthAdjust="spacingAndGlyphs">Intrinsic apoptotic signaling pathway</text>
<rect x="20" y="1772" width="15" height="10" fill="#fbab2c"/><text class="t" x="55" y="1777" textLength="351" lengthAdjust="spacingAndGlyphs">apoptotic mitochondrial changes</text>
<rect x="20" y="1797" width="15" height="11" fill="#dd6060"/><text class="t" x="55" y="1807" textLength="1154" lengthAdjust="spacingAndGlyphs">Regulation of mitochondrial outer membrane permeabilization involved in the apoptotic signaling pathway</text>
</g>

<g id="legend-functions-right">
<text class="t b" x="2156" y="1602" textLength="120" lengthAdjust="spacingAndGlyphs">Functions</text>
<rect x="2132" y="1623" width="21" height="11" fill="#dd6060"/><text class="t" x="2156" y="1632" textLength="862" lengthAdjust="spacingAndGlyphs">Regulation of cysteine-type endopeptidase activity involved in apoptotic process</text>
<rect x="2132" y="1663" width="21" height="11" fill="#3a94c5"/><text class="t" x="2156" y="1661" textLength="624" lengthAdjust="spacingAndGlyphs">Positive regulation of cysteine-type endopeptidase activity</text>
<rect x="2132" y="1690" width="21" height="11" fill="#fbab2c"/><text class="t" x="2156" y="1690" textLength="405" lengthAdjust="spacingAndGlyphs">Extrinsic apoptotic signaling pathway</text>
<rect x="2132" y="1716" width="21" height="11" fill="#9a7fcc"/><text class="t" x="2156" y="1719" textLength="549" lengthAdjust="spacingAndGlyphs">Tumor necrosis factor-mediated signaling pathway</text>
<rect x="2132" y="1744" width="21" height="10" fill="#e888cc"/><text class="t" x="2156" y="1749" textLength="558" lengthAdjust="spacingAndGlyphs">Regulation of I-kappaB kinase/NF-kappaB signaling</text>
<rect x="2132" y="1770" width="21" height="10" fill="#12c06f"/><text class="t" x="2156" y="1777" textLength="211" lengthAdjust="spacingAndGlyphs">Necroptotic process</text>
<rect x="2132" y="1796" width="21" height="10" fill="#5fcdc0"/><text class="t" x="2156" y="1807" textLength="349" lengthAdjust="spacingAndGlyphs">Regulation of extrinsic apoptosis</text>
</g>
</svg>
